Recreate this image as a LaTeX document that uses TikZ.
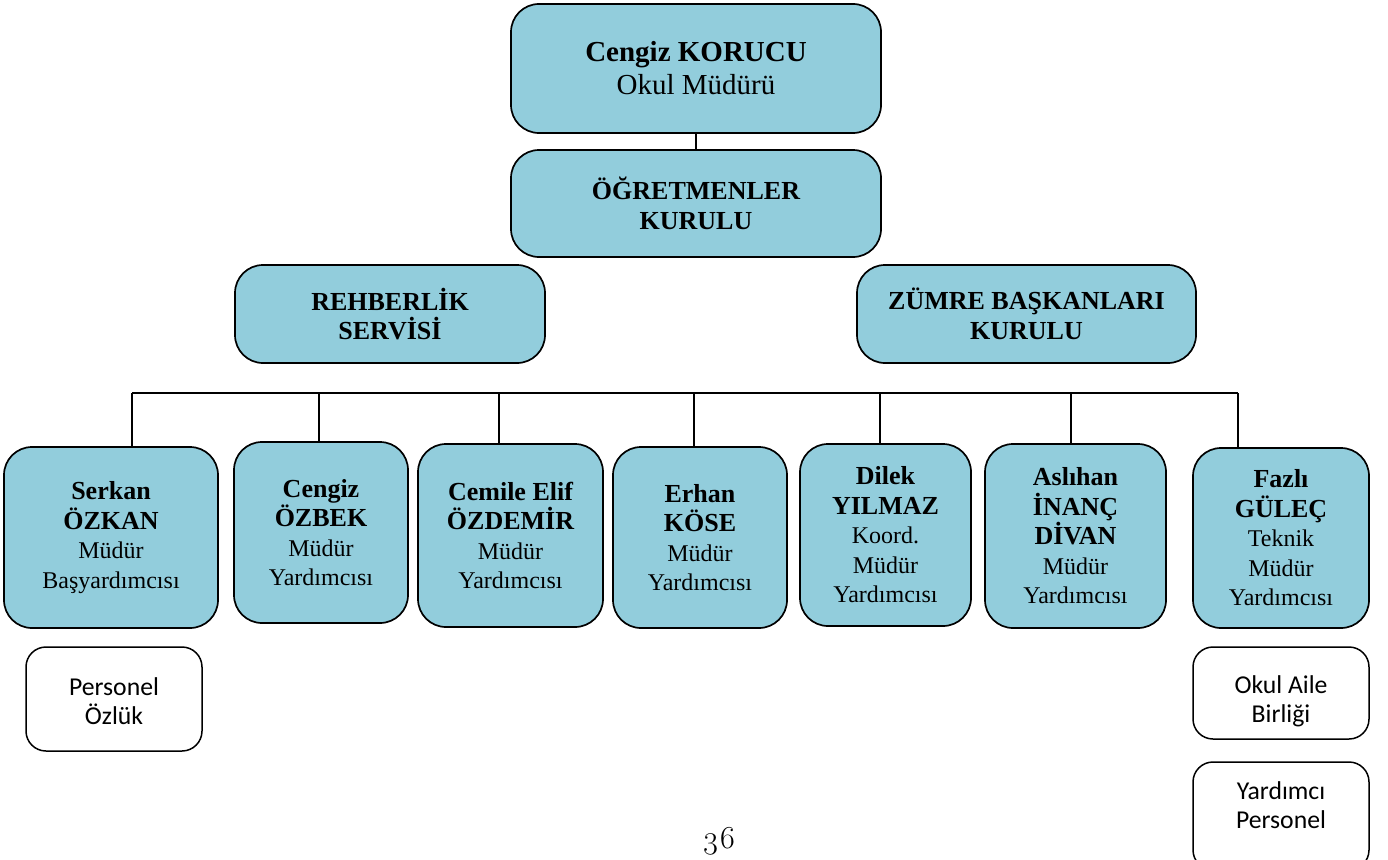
\documentclass[tikz,border=0pt]{standalone}
\usepackage{fontspec}
\setmainfont{Liberation Serif}
\newfontfamily\calibrifont{Carlito}
\newfontfamily\lmoldfont{Latin Modern Roman}[Numbers=OldStyle]
\definecolor{boxblue}{HTML}{92CDDC}
\newcommand\nmb[1]{{\fontsize{26}{29.5}\selectfont\bfseries #1}}
\begin{document}
\begin{tikzpicture}[x=1pt,y=-1pt,
  bluebox/.style={draw=black, line width=1.7pt, fill=boxblue, rounded corners=28pt,
    align=center, inner sep=0pt, font=\fontsize{24}{29.5}\selectfont},
  whitebox/.style={draw=black, line width=1.5pt, fill=white, rounded corners=20pt,
    inner sep=0pt},
  whitetext/.style={align=center, inner sep=0pt, font=\calibrifont\fontsize{25.7}{29}\selectfont},
  conn/.style={draw=black, line width=1.8pt}]
\useasboundingbox (0,0) rectangle (1388,859);

% top
\node[bluebox, minimum width=370, minimum height=129, font=\fontsize{29}{33}\selectfont]
  (top) at (696,68.5) {\textbf{Cengiz KORUCU}\\Okul Müdürü};
\node[bluebox, minimum width=370, minimum height=107]
  (ogr) at (696,203.5) {\nmb{ÖĞRETMENLER}\\\nmb{KURULU}};
\node[bluebox, minimum width=310, minimum height=98]
  (rehber) at (390,314) {\nmb{REHBERLİK}\\\nmb{SERVİSİ}};
\node[bluebox, minimum width=339, minimum height=98]
  (zumre) at (1026.5,314) {\nmb{ZÜMRE BAŞKANLARI}\\\nmb{KURULU}};

% bottom row
\node[bluebox, minimum width=214, minimum height=181]
  (serkan) at (111,537.5) {\nmb{Serkan}\\\nmb{ÖZKAN}\\Müdür\\Başyardımcısı};
\node[bluebox, minimum width=174, minimum height=181]
  (cengizo) at (321,532.5) {\nmb{Cengiz}\\\nmb{ÖZBEK}\\Müdür\\Yardımcısı};
\node[bluebox, minimum width=185, minimum height=183]
  (cemile) at (510.5,535.5) {\nmb{Cemile Elif}\\\nmb{ÖZDEMİR}\\Müdür\\Yardımcısı};
\node[bluebox, minimum width=174, minimum height=181]
  (erhan) at (700,537.5) {\nmb{Erhan}\\\nmb{KÖSE}\\Müdür\\Yardımcısı};
\node[bluebox, minimum width=171, minimum height=182]
  (dilek) at (885.5,535) {\nmb{Dilek}\\\nmb{YILMAZ}\\Koord.\\Müdür\\Yardımcısı};
\node[bluebox, minimum width=181, minimum height=184]
  (aslihan) at (1075.5,536) {\nmb{Aslıhan}\\\nmb{İNANÇ}\\\nmb{DİVAN}\\Müdür\\Yardımcısı};
\node[bluebox, minimum width=176, minimum height=180]
  (fazli) at (1281,538) {\nmb{Fazlı}\\\nmb{GÜLEÇ}\\Teknik\\Müdür\\Yardımcısı};

% white boxes
\node[whitebox, minimum width=176, minimum height=104] (personel) at (114,699) {};
\node[whitetext] (personel-t) at (114,701) {Personel\\Özlük};
\node[whitebox, minimum width=176, minimum height=92] (okul) at (1281,693) {};
\node[whitetext] (okul-t) at (1281,701) {Okul Aile\\Birliği};
\node[whitebox, minimum width=176, minimum height=108] (yardimci) at (1281,816) {};
\node[whitetext] (yardimci-t) at (1281,805) {Yardımcı\\Personel};

% connectors
\draw[conn] (top.south) -- (ogr.north);
\coordinate (b1) at (132,393);
\coordinate (b2) at (319,393);
\coordinate (b3) at (499,393);
\coordinate (b4) at (694,393);
\coordinate (b5) at (880,393);
\coordinate (b6) at (1071,393);
\coordinate (b7) at (1238,393);
\draw[conn] (b1) -- (b7);
\draw[conn] (b1) -- (b1 |- serkan.north);
\draw[conn] (b2) -- (b2 |- cengizo.north);
\draw[conn] (b3) -- (b3 |- cemile.north);
\draw[conn] (b4) -- (b4 |- erhan.north);
\draw[conn] (b5) -- (b5 |- dilek.north);
\draw[conn] (b6) -- (b6 |- aslihan.north);
\draw[conn] (b7) -- (b7 |- fazli.north);

% page number
\node[font=\lmoldfont\fontsize{32}{36}\selectfont, inner sep=0pt] (page) at (719,841) {36};
\end{tikzpicture}
\end{document}
